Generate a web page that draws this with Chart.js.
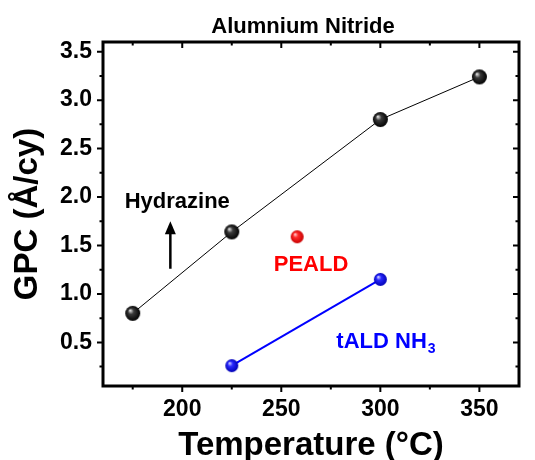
<!DOCTYPE html>
<html>
<head>
<meta charset="utf-8">
<script src="https://cdn.jsdelivr.net/npm/chart.js@4.4.1/dist/chart.umd.min.js"></script>
<style>
  body { margin: 0; background: #fff; }
  canvas { display: block; }
</style>
</head>
<body>
<canvas id="gpcChart" width="535" height="460"></canvas>
<script>
// values
const hydrazineTemp = [175, 225, 300, 350];
const hydrazineGpc  = [0.80, 1.64, 2.80, 3.24];
const pealdTemp = [258];
const pealdGpc  = [1.59];
const taldTemp = [225, 300];
const taldGpc  = [0.26, 1.15];

const xMajor = [200, 250, 300, 350];
const xMinor = [175, 225, 275, 325];
const yMajor = [0.5, 1.0, 1.5, 2.0, 2.5, 3.0, 3.5];
const yMinor = [0.25, 0.75, 1.25, 1.75, 2.25, 2.75, 3.25];

const FONT = "'Liberation Sans', Arial, sans-serif";

// shaded ball marker, used as pointStyle
function sphere(r, light, mid, dark) {
    const c = document.createElement("canvas");
    c.width = c.height = 2 * r + 2;
    const g = c.getContext("2d");
    const cx = r + 1, cy = r + 1;
    const grad = g.createRadialGradient(cx - r * 0.35, cy - r * 0.4, r * 0.05, cx, cy, r);
    grad.addColorStop(0, light);
    grad.addColorStop(0.35, mid);
    grad.addColorStop(1, dark);
    g.fillStyle = grad;
    g.beginPath();
    g.arc(cx, cy, r, 0, Math.PI * 2);
    g.fill();
    return c;
}

const blackBall = sphere(7.5, "#e0e0e0", "#3a3a3a", "#000000");
const redBall   = sphere(6.5, "#ffd0d0", "#ff2a2a", "#c80000");
const blueBall  = sphere(6.5, "#d0d0ff", "#2a2aff", "#0000b4");

const toXY = (xs, ys) => xs.map((x, i) => ({ x: x, y: ys[i] }));

const frame = {
    id: "frame",
    afterDraw(chart) {
        const ctx = chart.ctx;
        const a = chart.chartArea;
        const xs = chart.scales.x, ys = chart.scales.y;
        ctx.save();
        ctx.strokeStyle = "#000";
        ctx.lineWidth = 3;
        ctx.strokeRect(a.left, a.top, a.right - a.left, a.bottom - a.top);

        ctx.lineWidth = 2;
        ctx.beginPath();
        const xt = (v, len) => {
            const p = xs.getPixelForValue(v);
            ctx.moveTo(p, a.bottom); ctx.lineTo(p, a.bottom + len);
            ctx.moveTo(p, a.top);    ctx.lineTo(p, a.top + len);
        };
        const yt = (v, len) => {
            const p = ys.getPixelForValue(v);
            ctx.moveTo(a.left, p);  ctx.lineTo(a.left - len, p);
            ctx.moveTo(a.right, p); ctx.lineTo(a.right - len, p);
        };
        xMajor.forEach(v => xt(v, 6));
        xMinor.forEach(v => xt(v, 3.5));
        yMajor.forEach(v => yt(v, 6));
        yMinor.forEach(v => yt(v, 3.5));
        ctx.stroke();

        // arrow next to Hydrazine
        const ax = xs.getPixelForValue(194);
        const ay0 = ys.getPixelForValue(1.26), ay1 = ys.getPixelForValue(1.75);
        ctx.lineWidth = 2.5;
        ctx.beginPath();
        ctx.moveTo(ax, ay0); ctx.lineTo(ax, ay1 + 8);
        ctx.stroke();
        ctx.fillStyle = "#000";
        ctx.beginPath();
        ctx.moveTo(ax, ay1); ctx.lineTo(ax - 5.5, ay1 + 13); ctx.lineTo(ax + 5.5, ay1 + 13);
        ctx.closePath();
        ctx.fill();

        // labels inside the plot
        ctx.textBaseline = "middle";
        ctx.textAlign = "center";
        ctx.font = "bold 22px " + FONT;
        ctx.fillStyle = "#000";
        ctx.fillText("Hydrazine", xs.getPixelForValue(197.5), ys.getPixelForValue(1.95));
        ctx.fillStyle = "#ff0000";
        ctx.fillText("PEALD", xs.getPixelForValue(265), ys.getPixelForValue(1.30));
        ctx.fillStyle = "#0000ff";
        ctx.textAlign = "left";
        const tx = xs.getPixelForValue(277.8), ty = ys.getPixelForValue(0.5);
        ctx.fillText("tALD NH", tx, ty);
        const w = ctx.measureText("tALD NH").width;
        ctx.font = "bold 14px " + FONT;
        ctx.fillText("3", tx + w + 1, ty + 7);

        // titles
        ctx.fillStyle = "#000";
        ctx.textAlign = "center";
        ctx.font = "bold 22px " + FONT;
        ctx.fillText("Alumnium Nitride", 303, 27);
        ctx.font = "bold 33px " + FONT;
        ctx.fillText("Temperature (°C)", (a.left + a.right) / 2, 446);
        ctx.translate(28, (a.top + a.bottom) / 2);
        ctx.rotate(-Math.PI / 2);
        ctx.fillText("GPC (Å/cy)", 0, 0);
        ctx.restore();
    }
};

new Chart(document.getElementById("gpcChart"), {
    type: "scatter",
    data: {
        datasets: [
            {
                label: "Hydrazine",
                data: toXY(hydrazineTemp, hydrazineGpc),
                showLine: true,
                borderColor: "#000",
                borderWidth: 1,
                pointStyle: blackBall
            },
            {
                label: "PEALD",
                data: toXY(pealdTemp, pealdGpc),
                pointStyle: redBall
            },
            {
                label: "tALD NH3",
                data: toXY(taldTemp, taldGpc),
                showLine: true,
                borderColor: "#0000ff",
                borderWidth: 2,
                pointStyle: blueBall
            }
        ]
    },
    options: {
        responsive: false,
        animation: false,
        layout: { padding: { top: 42, right: 16, left: 0, bottom: 0 } },
        plugins: {
            legend: { display: false },
            tooltip: { enabled: false }
        },
        scales: {
            x: {
                type: "linear",
                min: 160,
                max: 370,
                afterBuildTicks: s => { s.ticks = xMajor.map(v => ({ value: v })); },
                afterFit: s => { s.height = 74; },
                grid: { display: false, drawTicks: false },
                border: { display: false },
                ticks: {
                    color: "#000",
                    padding: 10,
                    font: { family: FONT, size: 23, weight: "bold" }
                }
            },
            y: {
                min: 0.05,
                max: 3.6,
                afterBuildTicks: s => { s.ticks = yMajor.map(v => ({ value: v })); },
                afterFit: s => { s.width = 103; },
                grid: { display: false, drawTicks: false },
                border: { display: false },
                ticks: {
                    color: "#000",
                    padding: 11,
                    callback: v => v.toFixed(1),
                    font: { family: FONT, size: 23, weight: "bold" }
                }
            }
        }
    },
    plugins: [frame]
});
</script>
</body>
</html>
